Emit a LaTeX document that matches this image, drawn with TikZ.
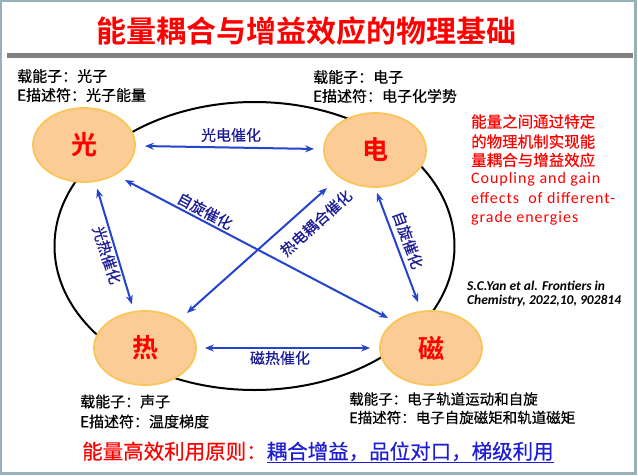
\documentclass[tikz,border=0pt]{standalone}
\usepackage{fontspec}
\setmainfont{Noto Sans CJK SC}[BoldFont={Noto Sans CJK SC Bold}]
\newfontfamily\medf{Noto Sans CJK SC}[FakeBold=0.5]
\newfontfamily\citef{Carlito}
\newfontfamily\engf{Carlito}[LetterSpace=6]
\usetikzlibrary{shapes.geometric,arrows.meta}
\definecolor{framec}{RGB}{150,178,184}
\definecolor{barc}{RGB}{128,128,128}
\definecolor{ellfill}{RGB}{251,204,150}
\definecolor{ellborder}{RGB}{250,198,90}
\definecolor{arrblue}{RGB}{36,68,204}
\definecolor{lblblue}{RGB}{28,28,150}
\definecolor{ublue}{RGB}{30,30,210}
\begin{document}
\begin{tikzpicture}[x=1pt,y=-1pt,
  energy/.style={ellipse, draw=ellborder, fill=ellfill, line width=1.8pt,
    minimum width=102pt, minimum height=74pt, inner sep=0pt, text=red,
    font=\fontsize{26}{26}\selectfont\bfseries},
  arr/.style={draw=arrblue, line width=2pt,
    {Stealth[length=9pt,width=7pt]}-{Stealth[length=9pt,width=7pt]}},
  lbl/.style={text=lblblue, font=\medf\fontsize{15}{15}\selectfont, inner sep=0pt},
  info/.style={anchor=west, inner sep=0pt, font=\medf\fontsize{15}{15}\selectfont},
  infos/.style={anchor=west, inner sep=0pt, font=\medf\fontsize{14.5}{14.5}\selectfont},
  redtxt/.style={anchor=west, inner sep=0pt, text=red, font=\medf\fontsize{15.5}{15.5}\selectfont},
  engtxt/.style={anchor=base west, inner sep=0pt, text=red, font=\engf\fontsize{16}{16}\selectfont},
  cite/.style={anchor=base west, inner sep=0pt, font=\citef\fontsize{13.5}{13.5}\selectfont\bfseries\itshape}
]
\useasboundingbox (0,0) rectangle (638,475);
\fill[white] (0,0) rectangle (638,475);
\draw[framec, line width=2.5pt] (1.2,1) rectangle (635.5,473.5);
\fill[barc] (7,53) rectangle (633,58);

% title
\node[text=red, inner sep=0pt, font=\fontsize{30}{30}\selectfont\bfseries] (title) at (306.5,31) {能量耦合与增益效应的物理基础};

% big cycle
\node[ellipse, draw=black, line width=2pt, minimum width=400pt, minimum height=288pt, inner sep=0pt] (ring) at (254.5,246) {};

% energy nodes
\node[energy] (guang) at (84,145) {光};
\node[energy] (dian) at (375,150) {电};
\node[energy] (re) at (145,348) {热};
\node[energy] (ci) at (431,348) {磁};

% arrows
\draw[arr, shorten <=9pt, shorten >=9pt] (guang) -- (dian);
\draw[arr, shorten <=8pt, shorten >=9pt] (re) -- (ci);
\draw[arr, shorten <=7pt, shorten >=7pt] (guang) -- (re);
\draw[arr] ([shift={(2,5)}]dian.south) -- ([shift={(-13,-8)}]ci.north);
\draw[arr] ([shift={(41,35)}]guang.center) -- ([shift={(-43,-30)}]ci.center);
\draw[arr] ([shift={(42,-35)}]re.center) -- ([shift={(-48,38)}]dian.center);

% arrow labels
\node[lbl] (l1) at (231,135) {光电催化};
\node[lbl] (l2) at (280,358) {磁热催化};
\node[lbl, rotate=-72] (l3) at (107,255) {光热催化};
\node[lbl, rotate=-70] (l4) at (408,240) {自旋催化};
\node[lbl, rotate=-28] (l5) at (205,211) {自旋催化};
\node[lbl, rotate=42] (l6) at (316,223) {热电耦合催化};

% info texts
\node[info] (ga) at (17,76) {载能子：光子};
\node[info] (gb) at (17,95) {E描述符：光子能量};
\node[info] (da) at (313,77) {载能子：电子};
\node[info] (db) at (313,96) {E描述符：电子化学势};
\node[info] (ra) at (80,401.5) {载能子：声子};
\node[info] (rb) at (80,421.5) {E描述符：温度梯度};
\node[infos] (ca) at (349,399) {载能子：电子轨道运动和自旋};
\node[infos] (cb) at (349,417.5) {E描述符：电子自旋磁矩和轨道磁矩};

% red note
\node[redtxt] (n1) at (471,121.5) {能量之间通过特定};
\node[redtxt] (n2) at (471,141.5) {的物理机制实现能};
\node[redtxt] (n3) at (471,160) {量耦合与增益效应};
\node[engtxt] (e1) at (471,183.5) {Coupling and gain};
\node[engtxt] (e2) at (471,203) {effects\ \ of different-};
\node[engtxt] (e3) at (471,222.5) {grade energies};

% citation
\node[cite] (c1) at (467,290) {S.C.Yan et al. Frontiers in};
\node[cite] (c2) at (467,304.5) {Chemistry, 2022,10, 902814};

% bottom principle
\node[anchor=base west, inner sep=0pt, font=\medf\fontsize{20.5}{20.5}\selectfont] (principle) at (82,459)
  {\textcolor{red}{能量高效利用原则：}\textcolor{ublue}{\underline{耦合增益，品位对口，梯级利用}}};
\end{tikzpicture}
\end{document}
